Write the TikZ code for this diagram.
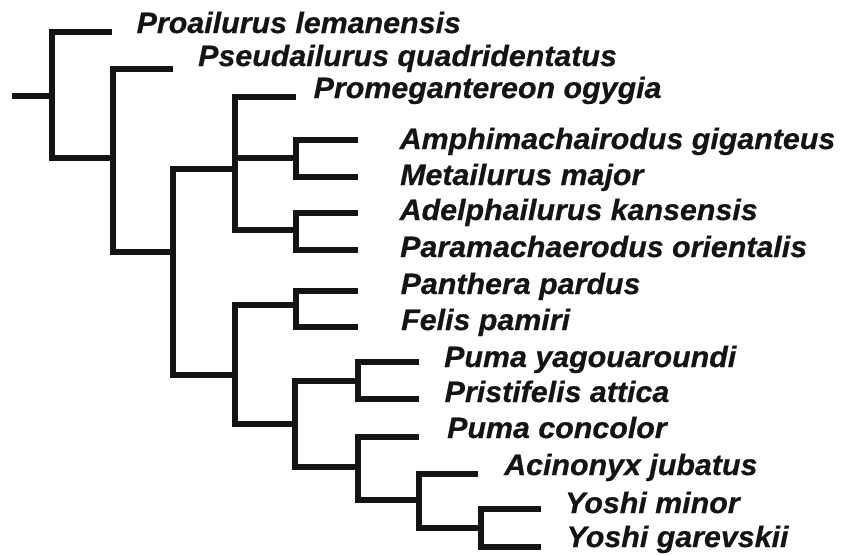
\documentclass[tikz,border=0pt]{standalone}
\usepackage{fontspec}
\newfontfamily\labfont[FakeStretch=1.03,FakeBold=0.6]{Liberation Sans}
\begin{document}
\begin{tikzpicture}[x=1pt,y=-1pt,
  branch/.style={line width=6.3pt, line join=miter, draw=black!92},
  lab/.style={anchor=base west, inner sep=0pt, text=black!92,
    font=\labfont\bfseries\itshape\fontsize{29.5}{29.5}\selectfont}]
\useasboundingbox (0,0) rectangle (848,555);
% internal nodes and tips
\coordinate (base) at (12,96);
\coordinate (root) at (51.7,96);
\coordinate (t1) at (112,32);
\coordinate (n2) at (113,158);
\coordinate (t2) at (173,69);
\coordinate (n3) at (173,252);
\coordinate (nA) at (235,169);
\coordinate (t3) at (296,97);
\coordinate (nB) at (296,158);
\coordinate (nC) at (296,230);
\coordinate (t4) at (358,140);
\coordinate (t5) at (358,177);
\coordinate (t6) at (358,213);
\coordinate (t7) at (358,250);
\coordinate (nD) at (235,374.7);
\coordinate (nE) at (296,305);
\coordinate (t8) at (358,291);
\coordinate (t9) at (358,327);
\coordinate (nF) at (295,424);
\coordinate (nG) at (358,381);
\coordinate (t10) at (419,362);
\coordinate (t11) at (419,399);
\coordinate (nH) at (358,467);
\coordinate (t12) at (419,437);
\coordinate (nI) at (419,500);
\coordinate (t13) at (478,474);
\coordinate (nJ) at (481,528);
\coordinate (t14) at (541,509);
\coordinate (t15) at (541,547);
% branches
\draw[branch] (base) -- (root);
\draw[branch] (t1) -| (root) |- (n2);
\draw[branch] (t2) -| (n2) |- (n3);
\draw[branch] (nA) -| (n3) |- (nD);
\draw[branch] (t3) -| (nA) |- (nC);
\draw[branch] (nA |- nB) -- (nB);
\draw[branch] (t4) -| (nB) |- (t5);
\draw[branch] (t6) -| (nC) |- (t7);
\draw[branch] (nE) -| (nD) |- (nF);
\draw[branch] (t8) -| (nE) |- (t9);
\draw[branch] (nG) -| (nF) |- (nH);
\draw[branch] (t10) -| (nG) |- (t11);
\draw[branch] (t12) -| (nH) |- (nI);
\draw[branch] (t13) -| (nI) |- (nJ);
\draw[branch] (t14) -| (nJ) |- (t15);
% labels
\node[lab] (l1) at (136.5,33) {Proailurus lemanensis};
\node[lab] (l2) at (198,66) {Pseudailurus quadridentatus};
\node[lab] (l3) at (313.5,98) {Promegantereon ogygia};
\node[lab] (l4) at (399.5,149) {Amphimachairodus giganteus};
\node[lab] (l5) at (400,185) {Metailurus major};
\node[lab] (l6) at (399.5,220) {Adelphailurus kansensis};
\node[lab] (l7) at (400,257) {Paramachaerodus orientalis};
\node[lab] (l8) at (400.5,294) {Panthera pardus};
\node[lab] (l9) at (401,330) {Felis pamiri};
\node[lab] (l10) at (444,367) {Puma yagouaroundi};
\node[lab] (l11) at (444.5,402) {Pristifelis attica};
\node[lab] (l12) at (447,438) {Puma concolor};
\node[lab] (l13) at (504,475) {Acinonyx jubatus};
\node[lab] (l14) at (565,513) {Yoshi minor};
\node[lab] (l15) at (566.5,547) {Yoshi garevskii};
\end{tikzpicture}
\end{document}
